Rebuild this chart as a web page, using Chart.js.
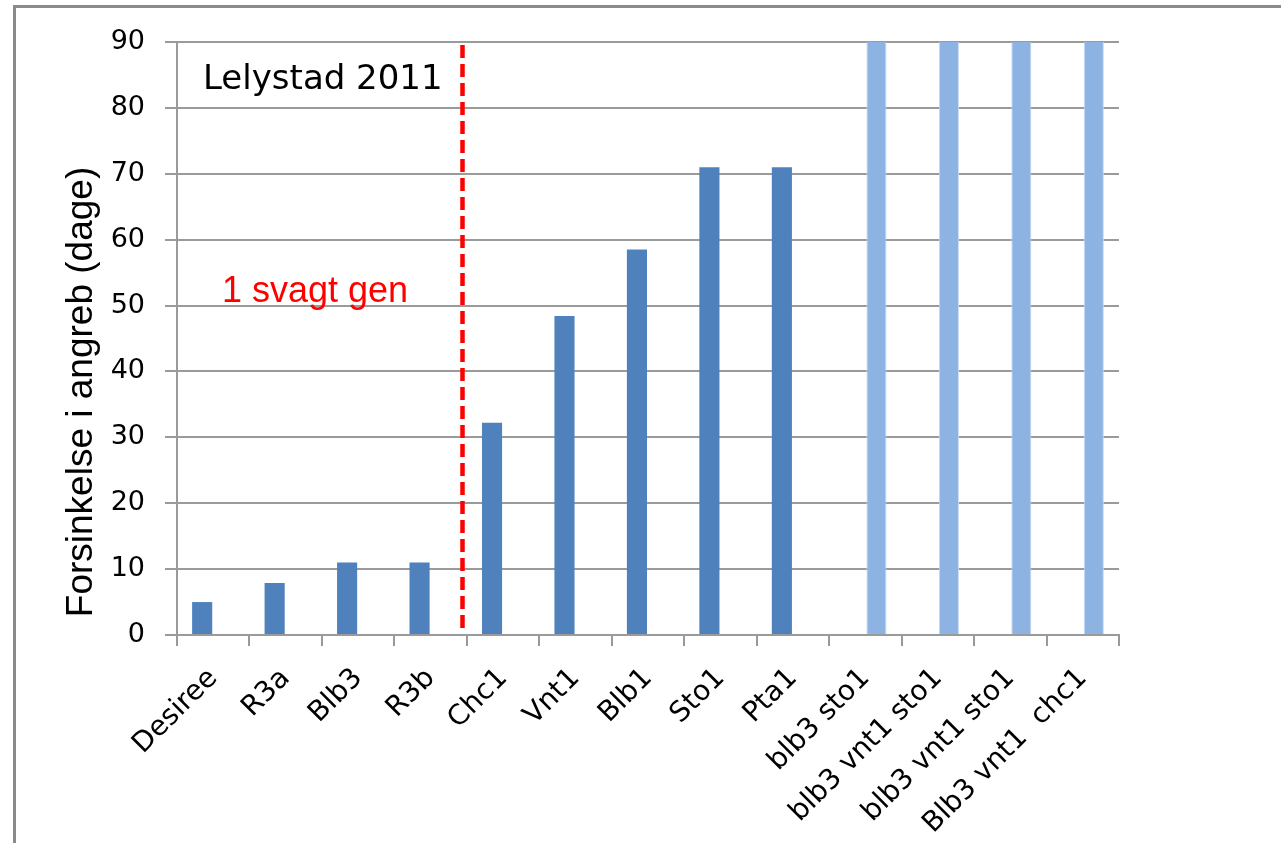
<!DOCTYPE html>
<html>
<head>
<meta charset="utf-8">
<title>Forsinkelse i angreb - Lelystad 2011</title>
<script src="https://cdn.jsdelivr.net/npm/chart.js@4/dist/chart.umd.min.js"></script>
<style>
  html, body { margin: 0; padding: 0; background: #fff; overflow: hidden; }
  #wrap { position: relative; width: 1281px; height: 843px; }
</style>
</head>
<body>
<div id="wrap"><canvas id="delayChart" width="1281" height="843"></canvas></div>
<script>
// Sorter og genkombinationer
const categories = ['Desiree', 'R3a', 'Blb3', 'R3b', 'Chc1', 'Vnt1', 'Blb1', 'Sto1', 'Pta1',
  'blb3 sto1', 'blb3 vnt1 sto1', 'blb3 vnt1 sto1', 'Blb3 vnt1  chc1'];
// enkeltgener (mørk blå)
const singleGene = [5, 7.9, 11, 11, 32.2, 48.4, 58.5, 71, 71, null, null, null, null];
// stablede gener (lys blå)
const stackedGenes = [null, null, null, null, null, null, null, null, null, 90, 90, 90, 90];
const yTicks = [0, 10, 20, 30, 40, 50, 60, 70, 80, 90];
const dividerAt = 3.44; // mellem R3b og Chc1

const GRID = '#9a9a9a';

// frame, dashed divider and free text
const decorations = {
  id: 'decorations',
  beforeDraw(chart) {
    const ctx = chart.ctx;
    ctx.save();
    ctx.fillStyle = '#fff';
    ctx.fillRect(0, 0, chart.width, chart.height);
    ctx.strokeStyle = '#8a8a8a';
    ctx.lineWidth = 3;
    ctx.strokeRect(14.5, 6.5, 3000, 3000);
    ctx.restore();
  },
  afterDatasetsDraw(chart) {
    const ctx = chart.ctx;
    const x = chart.scales.x;
    const y = chart.scales.y;
    const px = x.getPixelForValue(dividerAt);
    ctx.save();
    ctx.strokeStyle = '#ff0000';
    ctx.lineWidth = 4.5;
    ctx.setLineDash([13, 6]);
    ctx.beginPath();
    ctx.moveTo(px, y.getPixelForValue(90) + 3);
    ctx.lineTo(px, y.getPixelForValue(0) - 4);
    ctx.stroke();
    ctx.setLineDash([]);

    ctx.fillStyle = '#000';
    ctx.font = '34px "DejaVu Sans"';
    ctx.textAlign = 'left';
    ctx.textBaseline = 'alphabetic';
    ctx.fillText('Lelystad 2011', 203, 89);

    ctx.fillStyle = '#ff0000';
    ctx.font = '36px "Liberation Sans"';
    ctx.fillText('1 svagt gen', 222, 302);

    // y-aksens titel
    ctx.fillStyle = '#000';
    ctx.font = '37px "Liberation Sans"';
    ctx.translate(92, 392);
    ctx.rotate(-Math.PI / 2);
    ctx.textAlign = 'center';
    ctx.fillText('Forsinkelse i angreb (dage)', 0, 0);
    ctx.restore();
  }
};

new Chart(document.getElementById('delayChart'), {
  type: 'bar',
  data: {
    labels: categories,
    datasets: [
      { label: 'enkelt', data: singleGene, backgroundColor: '#4f81bd',
        categoryPercentage: 0.61, barPercentage: 0.91 },
      { label: 'kombineret', data: stackedGenes, backgroundColor: '#8db3e2',
        borderColor: '#c6d9f1', borderWidth: { left: 1, right: 1 },
        categoryPercentage: 0.61, barPercentage: 0.91 }
    ]
  },
  options: {
    responsive: false,
    animation: false,
    layout: { padding: { top: 42, right: 162, left: 0, bottom: 0 } },
    plugins: { legend: { display: false }, tooltip: { enabled: false } },
    scales: {
      x: {
        offset: true,
        grid: { drawOnChartArea: false, drawTicks: true, tickLength: 11, offset: true,
                color: GRID, lineWidth: 2 },
        border: { display: true, color: GRID, width: 2 },
        ticks: {
          autoSkip: false, minRotation: 45, maxRotation: 45,
          padding: 16, labelOffset: 0,
          color: '#000', font: { family: 'DejaVu Sans', size: 28 }
        },
        afterFit(scale) { scale.height = 208; }
      },
      y: {
        min: 0, max: 90,
        afterBuildTicks(scale) { scale.ticks = yTicks.map(v => ({ value: v })); },
        grid: { color: GRID, lineWidth: 2, tickLength: 12 },
        border: { display: true, color: GRID, width: 2 },
        ticks: { padding: 20, color: '#000', font: { family: 'DejaVu Sans', size: 27 } },
        afterFit(scale) { scale.width = 177; }
      }
    }
  },
  plugins: [decorations]
});
</script>
</body>
</html>
